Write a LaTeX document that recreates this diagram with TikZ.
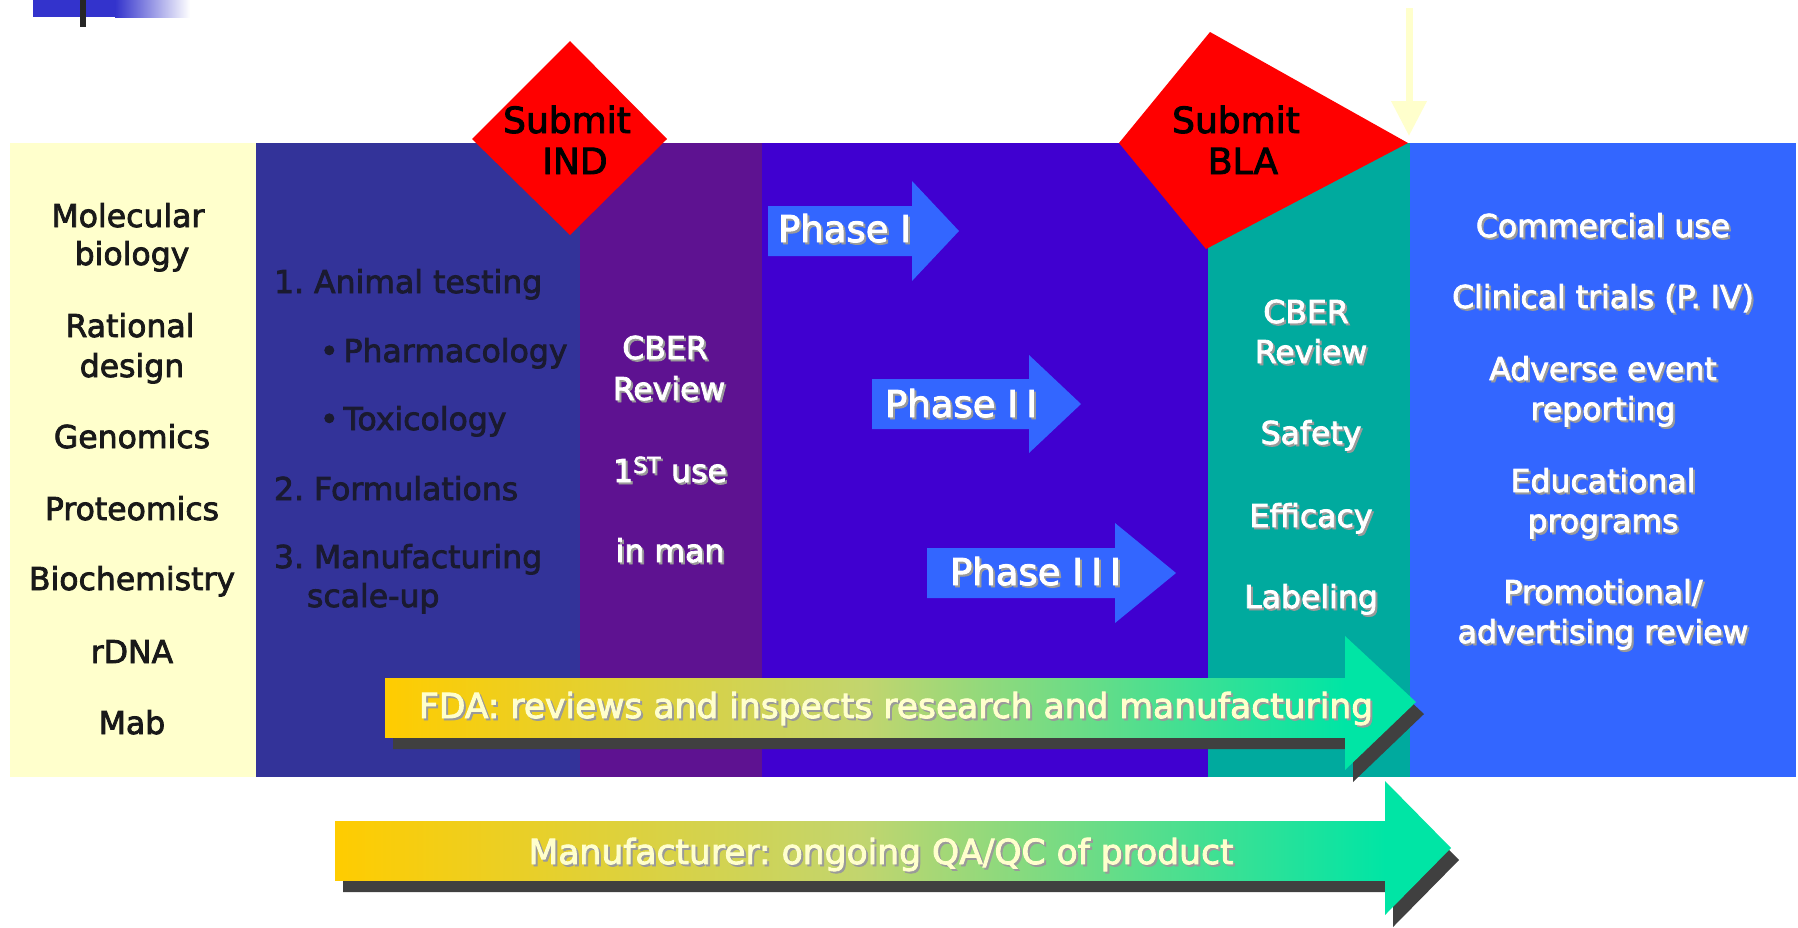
\documentclass[tikz,border=0pt]{standalone}
\usepackage{fontspec}
\setmainfont{DejaVu Sans}[FakeBold=2.5]
\usetikzlibrary{arrows.meta}
\definecolor{colY}{HTML}{FFFFCC}
\definecolor{colDB}{HTML}{333399}
\definecolor{colPu}{HTML}{5E1291}
\definecolor{colPh}{HTML}{4000D0}
\definecolor{colTe}{HTML}{00AA9E}
\definecolor{colBl}{HTML}{3366FF}
\definecolor{colSh}{HTML}{404040}
\definecolor{colGrA}{HTML}{FFCC00}
\definecolor{colGrM}{HTML}{C2D56E}
\definecolor{colGrB}{HTML}{00E5A5}
\definecolor{colDeco}{HTML}{3333CC}
\definecolor{txtdark}{HTML}{1A1A30}
\definecolor{txtshadow}{HTML}{9A9A9A}
\definecolor{lightyel}{HTML}{FFFFCC}
\newcommand\shtxt[5]{%
  \node[#1, text=txtshadow, xshift=2pt, yshift=-2pt] (#4s) at (#2,#3) {#5};
  \node[#1] (#4) at (#2,#3) {#5};}
\begin{document}
\frenchspacing
\begin{tikzpicture}[x=1pt,y=-1pt,
  txt/.style={inner sep=0pt, outer sep=0pt, anchor=base, font=\fontsize{31.5}{36}\selectfont},
  txtw/.style={txt, anchor=base west},
  darktxt/.style={txtw, text=txtdark},
  blacktxt/.style={txt, text=black!90},
  whitetxt/.style={txt, text=white},
  subtxt/.style={txt, text=black, font=\fontsize{36}{40}\selectfont},
  phasetxt/.style={txtw, text=white, font=\fontsize{37}{40}\selectfont},
  arrtxt/.style={txt, text=lightyel, font=\fontsize{34.5}{40}\selectfont},
  phasearrow/.style={fill=colBl},
  shadowfill/.style={fill=colSh},
]
\useasboundingbox (0,0) rectangle (1798,927);
\fill[white] (0,0) rectangle (1798,927);

% top-left decoration
\fill[colDeco] (33,0) rectangle (115,17);
\shade[left color=colDeco, right color=white] (115,0) rectangle (190,17);
\fill[black!85] (80,0) rectangle (86,27);

% columns
\fill[colY]  (10,143)   rectangle (256,777);
\fill[colDB] (256,143)  rectangle (580,777);
\fill[colPu] (580,143)  rectangle (762,777);
\fill[colPh] (762,143)  rectangle (1208,777);
\fill[colTe] (1208,143) rectangle (1410,777);
\fill[colBl] (1410,143) rectangle (1796,777);

% diamonds
\fill[red] (570,41) -- (667,139) -- (570,235) -- (472,139) -- cycle;
\fill[red] (1210,32) -- (1408,143) -- (1206,249) -- (1119,143) -- cycle;

% yellow down arrow
\coordinate (arrTop) at (1409,8);
\coordinate (arrBot) at (1409,136);
\draw[lightyel, line width=7pt, -{Triangle[width=34pt,length=35pt]}] (arrTop) -- (arrBot);

% phase arrows
\fill[phasearrow] (768,206) -- (912,206) -- (912,181) -- (959,231) -- (912,281) -- (912,256) -- (768,256) -- cycle;
\fill[phasearrow] (872,379) -- (1029,379) -- (1029,355) -- (1081,404) -- (1029,453) -- (1029,429) -- (872,429) -- cycle;
\fill[phasearrow] (927,548) -- (1115,548) -- (1115,523) -- (1176,573) -- (1115,623) -- (1115,598) -- (927,598) -- cycle;

% FDA arrow
\fill[shadowfill, shift={(8,12)}] (385,678) -- (1345,678) -- (1345,636) -- (1416,702) -- (1345,770) -- (1345,737) -- (385,737) -- cycle;
\shade[left color=colGrA, right color=colGrB, middle color=colGrM] (385,678) rectangle (1345,737);
\fill[colGrB] (1345,636) -- (1416,702) -- (1345,770) -- cycle;

% Manufacturer arrow
\fill[shadowfill, shift={(8,12)}] (335,821) -- (1385,821) -- (1385,781) -- (1451,848) -- (1385,915) -- (1385,880) -- (335,880) -- cycle;
\shade[left color=colGrA, right color=colGrB, middle color=colGrM] (335,821) rectangle (1385,880);
\fill[colGrB] (1385,781) -- (1451,848) -- (1385,915) -- cycle;

% Submit labels
\node[subtxt] (ind1) at (567,133) {Submit};
\node[subtxt] (ind2) at (575,174) {IND};
\node[subtxt] (bla1) at (1236,133) {Submit};
\node[subtxt] (bla2) at (1243,174) {BLA};

% yellow column
\node[blacktxt] (y1) at (128,227) {Molecular};
\node[blacktxt] (y2) at (132,265) {biology};
\node[blacktxt] (y3) at (130,337) {Rational};
\node[blacktxt] (y4) at (132,377) {design};
\node[blacktxt] (y5) at (132,448) {Genomics};
\node[blacktxt] (y6) at (132,520) {Proteomics};
\node[blacktxt] (y7) at (132,590) {Biochemistry};
\node[blacktxt] (y8) at (132,663) {rDNA};
\node[blacktxt] (y9) at (132,734) {Mab};

% dark blue column
\node[darktxt] (d1) at (274,293) {1. Animal testing};
\node[darktxt] (d2) at (320,362) {•\hspace{5pt}Pharmacology};
\node[darktxt] (d3) at (320,430) {•\hspace{5pt}Toxicology};
\node[darktxt] (d4) at (274,500) {2. Formulations};
\node[darktxt] (d5) at (274,568) {3. Manufacturing};
\node[darktxt] (d6) at (307,607) {scale-up};

% purple column
\shtxt{whitetxt}{665}{359}{p1}{CBER}
\shtxt{whitetxt}{669}{400}{p2}{Review}
\shtxt{whitetxt}{670}{482}{p3}{1\textsuperscript{ST} use}
\shtxt{whitetxt}{670}{562}{p4}{in man}

% phase labels
\shtxt{phasetxt}{778}{242}{ph1}{Phase I}
\shtxt{phasetxt}{885}{417}{ph2}{Phase I\kern8pt I}
\shtxt{phasetxt}{950}{585}{ph3}{Phase I\kern8pt I\kern8pt I}

% teal column
\shtxt{whitetxt}{1306}{323}{t1}{CBER}
\shtxt{whitetxt}{1311}{363}{t2}{Review}
\shtxt{whitetxt}{1311}{444}{t3}{Safety}
\shtxt{whitetxt}{1311}{527}{t4}{Efficacy}
\shtxt{whitetxt}{1311}{608}{t5}{Labeling}

% right column
\shtxt{whitetxt}{1603}{237}{r1}{Commercial use}
\shtxt{whitetxt}{1603}{308}{r2}{Clinical trials (P. IV)}
\shtxt{whitetxt}{1603}{380}{r3}{Adverse event}
\shtxt{whitetxt}{1603}{420}{r4}{reporting}
\shtxt{whitetxt}{1603}{492}{r5}{Educational}
\shtxt{whitetxt}{1603}{532}{r6}{programs}
\shtxt{whitetxt}{1603}{603}{r7}{Promotional/}
\shtxt{whitetxt}{1603}{643}{r8}{advertising review}

% arrow texts
\shtxt{arrtxt, anchor=base west}{419}{718}{fda}{FDA: reviews and inspects research and manufacturing}
\shtxt{arrtxt}{881}{864}{mfr}{Manufacturer: ongoing QA/QC of product}
\end{tikzpicture}
\end{document}
